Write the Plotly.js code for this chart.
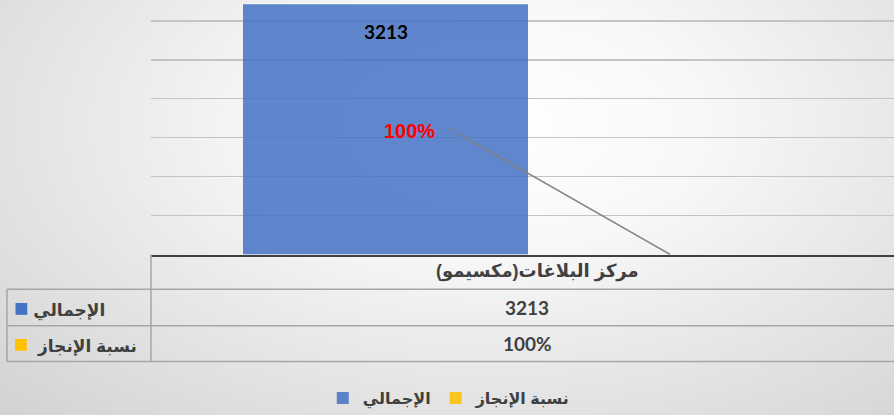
<!DOCTYPE html>
<html>
<head>
<meta charset="utf-8">
<script src="https://cdn.plot.ly/plotly-3.0.1.min.js"></script>
<style>
  html, body { margin: 0; padding: 0; }
  body {
    width: 894px; height: 415px; overflow: hidden;
    background: radial-gradient(ellipse farthest-corner at 55% 30%, #ffffff 0%, #f8f8f8 30%, #d2d2d2 100%);
  }
  #chart { width: 894px; height: 415px; }
</style>
</head>
<body>
<div id="chart"></div>
<script>
// ---- data ----
const categories = ['مركز البلاغات(مكسيمو)'];
const seriesNames = ['الإجمالي', 'نسبة الإنجاز'];
const totalValues = [3213];
const completionValues = [1];          // 100%
const completionLabels = ['100%'];
const seriesColors = ['rgba(68,114,196,0.85)', 'rgba(255,192,0,0.85)'];
const squareColors = ['#4472C4', '#FFC000'];

const arabicFont = "Arial, 'Liberation Sans', 'DejaVu Sans', sans-serif";
const numFont = "Lato, 'Liberation Sans', sans-serif";
const textGray = '#404040';
const W = 894, H = 415;
const px = v => v / W;
const py = v => 1 - v / H;

const traces = [
  {
    type: 'bar', name: seriesNames[0], x: categories, y: totalValues,
    marker: { color: seriesColors[0] }, hoverinfo: 'skip'
  },
  {
    type: 'bar', name: seriesNames[1], x: categories, y: completionValues,
    marker: { color: seriesColors[1] }, hoverinfo: 'skip'
  }
];

// ---- data table (drawn with shapes + annotations) ----
const tableLine = { color: '#a6a6a6', width: 1.5 };
const rowEdges = [257, 292, 329, 365];
const shapes = [
  { type: 'line', xref: 'paper', yref: 'paper', x0: px(151), x1: px(151), y0: py(257), y1: py(365), line: tableLine },
  { type: 'line', xref: 'paper', yref: 'paper', x0: px(7), x1: px(7), y0: py(292), y1: py(365), line: tableLine },
  { type: 'line', xref: 'paper', yref: 'paper', x0: px(7), x1: 1, y0: py(292), y1: py(292), line: tableLine },
  { type: 'line', xref: 'paper', yref: 'paper', x0: px(7), x1: 1, y0: py(329), y1: py(329), line: tableLine },
  { type: 'line', xref: 'paper', yref: 'paper', x0: px(7), x1: 1, y0: py(365), y1: py(365), line: tableLine }
];

const rowValues = [String(totalValues[0]), completionLabels[0]];
const tableAnn = [];
tableAnn.push({
  xref: 'paper', yref: 'paper', x: px(537), y: py(274.5), showarrow: false,
  xanchor: 'center', yanchor: 'middle',
  text: '<b>' + categories[0] + '</b>',
  font: { family: arabicFont, size: 18, color: textGray }
});
seriesNames.forEach((n, i) => {
  const yc = (rowEdges[i + 1] + rowEdges[i + 2]) / 2;
  tableAnn.push({
    xref: 'paper', yref: 'paper', x: px(12), y: py(yc), showarrow: false,
    xanchor: 'left', yanchor: 'middle',
    text: '<span style="color:' + squareColors[i] + ';font-size:24px">■</span>' + (i === 1 ? '  ' : ' ') + '<b>' + n + '</b>',
    font: { family: arabicFont, size: 17, color: textGray }
  });
  tableAnn.push({
    xref: 'paper', yref: 'paper', x: px(527), y: py(yc), showarrow: false,
    xanchor: 'center', yanchor: 'middle',
    text: '<b>' + rowValues[i] + '</b>',
    font: { family: numFont, size: 19, color: textGray }
  });
});

const layout = {
  width: W, height: H,
  margin: { l: 0, r: 0, t: 0, b: 0 },
  paper_bgcolor: 'rgba(0,0,0,0)',
  plot_bgcolor: 'rgba(0,0,0,0)',
  barmode: 'group',
  bargap: 0.244,
  bargroupgap: 0,
  showlegend: true,
  legend: {
    orientation: 'h', x: 0.502, xanchor: 'center', y: 0.031, yanchor: 'middle',
    font: { family: arabicFont, size: 16, color: textGray, weight: 'bold' },
    bgcolor: 'rgba(0,0,0,0)', traceorder: 'normal', itemwidth: 30
  },
  xaxis: {
    domain: [151 / W, 1],
    type: 'category',
    range: [-0.5, 0.4854],
    showticklabels: false, ticks: '',
    showgrid: false, zeroline: false,
    showline: true, linecolor: '#404040', linewidth: 2, mirror: false
  },
  yaxis: {
    domain: [(H - 257) / H, 1],
    range: [0, 3267],
    dtick: 500,
    showticklabels: false, ticks: '',
    showgrid: true, gridcolor: '#c4c4c4', gridwidth: 1.5,
    zeroline: false, showline: false
  },
  shapes: shapes,
  annotations: [
    {
      xref: 'x', yref: 'y', x: categories[0], y: totalValues[0],
      xshift: -142, yshift: -27, showarrow: false,
      text: '<b>' + totalValues[0] + '</b>',
      font: { family: numFont, size: 19, color: '#000000' }
    },
    {
      xref: 'x', yref: 'y', x: categories[0], y: completionValues[0],
      xshift: -119, yshift: 123, showarrow: false,
      text: '<b>' + completionLabels[0] + '</b>',
      font: { family: arabicFont, size: 20, color: '#ff0000' }
    },
    {
      xref: 'x', yref: 'y', x: categories[0], y: completionValues[0],
      xshift: 142, showarrow: true, arrowhead: 0, arrowwidth: 1.5, arrowcolor: '#7f7f7f',
      ax: -219, ay: -125, standoff: 0,
      text: '─', font: { family: "'DejaVu Sans', sans-serif", size: 11, color: '#7f7f7f' }
    }
  ].concat(tableAnn)
};

Plotly.newPlot('chart', traces, layout, { displayModeBar: false, staticPlot: true });
</script>
</body>
</html>
